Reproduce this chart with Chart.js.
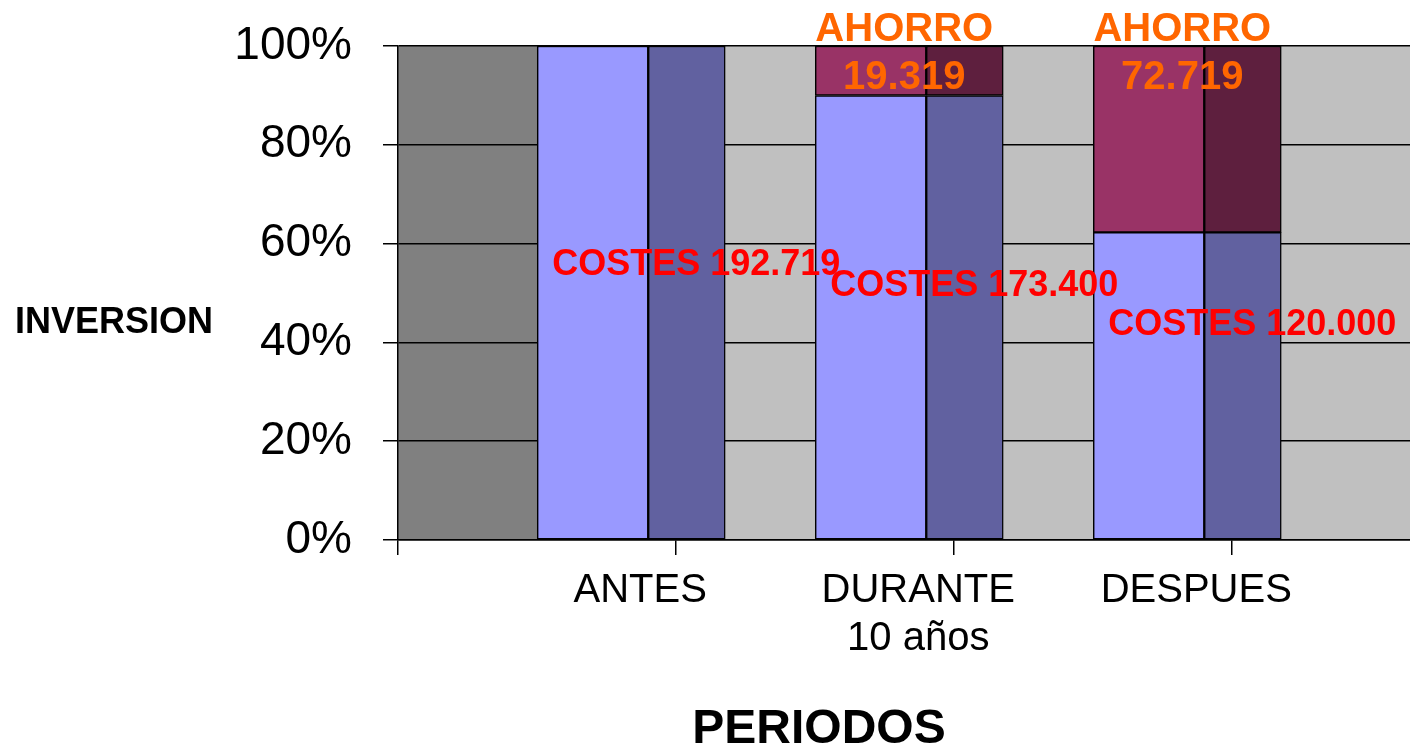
<!DOCTYPE html>
<html lang="es">
<head>
<meta charset="utf-8">
<title>Inversión por periodos</title>
<script src="https://cdn.jsdelivr.net/npm/chart.js@4.4.1/dist/chart.umd.min.js"></script>
<style>
    html, body { margin: 0; padding: 0; background: #fff; }
    #wrap { position: relative; width: 1410px; height: 749px; }
</style>
</head>
<body>
<div id="wrap"><canvas id="inversionChart"></canvas></div>
<script>
// === DATA ===
const PERIODOS = ['ANTES', ['DURANTE', '10 años'], 'DESPUES'];
const COSTES = [192719, 173400, 120000];
const AHORRO = [0, 19319, 72719];
const Y_TICKS = [0, 20, 40, 60, 80, 100];

// where the red "COSTES" label sits on each column (in % of the y axis)
const COSTES_LABEL_AT = [55.6, 51.4, 43.5];

const COLORS = {
    costesFront: '#9999FF',
    costesSide: '#6161A0',
    ahorroFront: '#993366',
    ahorroSide: '#5E1F3E',
    sideWall: '#808080',
    backWall: '#C0C0C0',
    costesText: '#FF0000',
    ahorroText: '#FF6600'
};

const FONT = '"Liberation Sans", Arial, sans-serif';
Chart.defaults.font.family = FONT;
Chart.defaults.color = '#000';

function fmt(v) {
    return v.toString().replace(/\B(?=(\d{3})+(?!\d))/g, '.');
}

const totals = COSTES.map((c, i) => c + AHORRO[i]);
const costesPct = COSTES.map((c, i) => ({ x: i + 1, y: c / totals[i] * 100 }));
const ahorroPct = AHORRO.map((a, i) => ({ x: i + 1, y: a / totals[i] * 100 }));

// === PLUGINS ===
const wallsPlugin = {
    id: 'walls',
    beforeDraw(chart) {
        const { ctx, chartArea: a } = chart;
        const first = chart.getDatasetMeta(0).data[0];
        const wallEdge = first.x - first.width / 2;
        ctx.save();
        ctx.fillStyle = COLORS.backWall;
        ctx.fillRect(a.left, a.top, a.right - a.left, a.bottom - a.top);
        ctx.fillStyle = COLORS.sideWall;
        ctx.fillRect(a.left, a.top, wallEdge - a.left, a.bottom - a.top);
        ctx.restore();
    }
};

const labelsPlugin = {
    id: 'barLabels',
    afterDatasetsDraw(chart) {
        const { ctx, scales: { y } } = chart;
        const front = chart.getDatasetMeta(0).data;
        ctx.save();
        ctx.textAlign = 'center';
        ctx.textBaseline = 'middle';
        front.forEach((bar, i) => {
            const edge = bar.x + bar.width / 2;
            ctx.font = 'bold 36px ' + FONT;
            ctx.fillStyle = COLORS.costesText;
            ctx.fillText('COSTES ' + fmt(COSTES[i]), edge + 48, y.getPixelForValue(COSTES_LABEL_AT[i]));
            if (AHORRO[i] > 0) {
                ctx.font = 'bold 40px ' + FONT;
                ctx.fillStyle = COLORS.ahorroText;
                ctx.fillText('AHORRO', edge - 22, y.top - 16);
                ctx.fillText(fmt(AHORRO[i]), edge - 22, y.top + 32);
            }
        });

        // axis titles (horizontal, like the original)
        ctx.fillStyle = '#000';
        ctx.font = 'bold 36px ' + FONT;
        ctx.textAlign = 'left';
        ctx.fillText('INVERSION', 15, 323);
        ctx.font = 'bold 48px ' + FONT;
        ctx.textAlign = 'center';
        ctx.fillText('PERIODOS', 819, 730);
        ctx.restore();
    }
};

// === CHART ===
new Chart(document.getElementById('inversionChart'), {
    type: 'bar',
    data: {
        datasets: [
            { label: 'Costes', data: costesPct, stack: 'front', backgroundColor: COLORS.costesFront, barThickness: 111 },
            { label: 'Ahorro', data: ahorroPct, stack: 'front', backgroundColor: COLORS.ahorroFront, barThickness: 111 },
            { label: 'Costes', data: costesPct, stack: 'side', backgroundColor: COLORS.costesSide, barThickness: 77 },
            { label: 'Ahorro', data: ahorroPct, stack: 'side', backgroundColor: COLORS.ahorroSide, barThickness: 77 }
        ]
    },
    options: {
        responsive: true,
        maintainAspectRatio: false,
        animation: false,
        layout: { padding: { top: 46, left: 0, right: 0, bottom: 0 } },
        datasets: {
            bar: { borderColor: '#000', borderWidth: 1.5, borderSkipped: false }
        },
        plugins: {
            legend: { display: false },
            tooltip: { enabled: false }
        },
        scales: {
            x: {
                type: 'linear',
                position: 'bottom',
                weight: 0,
                offset: false,
                min: 0.1,
                max: 3.74,
                afterBuildTicks: s => { s.ticks = [0.1, 1.1, 2.1, 3.1].map(v => ({ value: v })); },
                afterFit: s => { s.height = 15; },
                ticks: { display: false },
                grid: { display: true, offset: false, drawOnChartArea: false, drawTicks: true, tickLength: 15, color: '#000', lineWidth: 1.5 },
                border: { display: true, color: '#000', width: 1.5 }
            },
            xLabels: {
                type: 'linear',
                position: 'bottom',
                axis: 'x',
                weight: 1,
                offset: false,
                min: 0.1,
                max: 3.74,
                afterBuildTicks: s => { s.ticks = PERIODOS.map((p, i) => ({ value: i + 1 })); },
                afterFit: s => { s.height = 194; s.paddingLeft = 0; s.paddingRight = 0; },
                ticks: {
                    callback: (v, i) => PERIODOS[i],
                    font: { size: 40 },
                    padding: 12,
                    labelOffset: -8,
                    maxRotation: 0,
                    autoSkip: false
                },
                grid: { display: false, offset: false, drawTicks: false },
                border: { display: false }
            },
            y: {
                stacked: true,
                min: 0,
                max: 100,
                afterBuildTicks: s => { s.ticks = Y_TICKS.map(v => ({ value: v })); },
                afterFit: s => { s.width = 398; s.paddingTop = 0; s.paddingBottom = 0; },
                ticks: {
                    callback: v => v + '%',
                    font: { size: 46 },
                    padding: 31
                },
                grid: { color: '#000', lineWidth: 1.5, tickLength: 15 },
                border: { display: true, color: '#000', width: 1.5 }
            }
        }
    },
    plugins: [wallsPlugin, labelsPlugin]
});
</script>
</body>
</html>
